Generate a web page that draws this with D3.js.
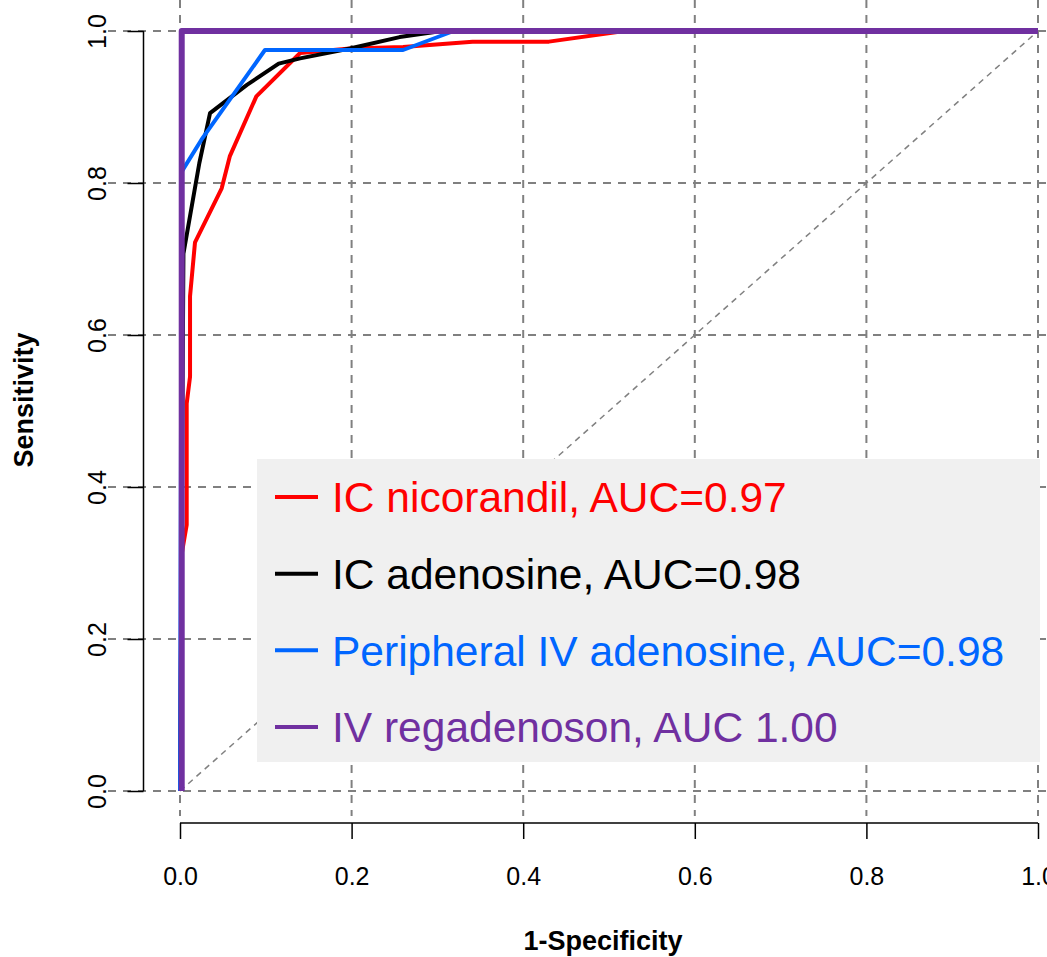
<!DOCTYPE html>
<html>
<head>
<meta charset="utf-8">
<script src="https://cdn.jsdelivr.net/npm/d3@7"></script>
<style>
  html, body { margin: 0; padding: 0; background: #ffffff; }
  svg { display: block; }
  text { font-family: "Liberation Sans", Arial, Helvetica, sans-serif; }
</style>
</head>
<body>
<svg id="chart" width="1047" height="957"></svg>
<script>
// ROC curves: 1-specificity (false positive rate) vs sensitivity
const nicorandilFPR = [0, 0.002, 0.0078, 0.0078, 0.0117, 0.0117, 0.0175, 0.0486, 0.058, 0.089, 0.14, 0.198, 0.26, 0.341, 0.43, 0.518, 1];
const nicorandilTPR = [0, 0.312, 0.35, 0.51, 0.545, 0.651, 0.722, 0.793, 0.835, 0.914, 0.971, 0.977, 0.979, 0.986, 0.986, 1, 1];

const icAdenosineFPR = [0, 0.004, 0.0225, 0.035, 0.078, 0.115, 0.14, 0.198, 0.256, 0.305, 1];
const icAdenosineTPR = [0, 0.707, 0.826, 0.892, 0.929, 0.957, 0.964, 0.977, 0.992, 1, 1];

const ivAdenosineFPR = [0, 0.002, 0.025, 0.099, 0.26, 0.319, 1];
const ivAdenosineTPR = [0, 0.815, 0.857, 0.975, 0.975, 1, 1];

const regadenosonFPR = [0.002, 0.002, 1];
const regadenosonTPR = [0, 1, 1];

const seriesNames = [
  "IC nicorandil, AUC=0.97",
  "IC adenosine, AUC=0.98",
  "Peripheral IV adenosine, AUC=0.98",
  "IV regadenoson, AUC 1.00"
];
const seriesColors = ["#ff0000", "#000000", "#0066ff", "#7030a0"];
const seriesWidths = [4, 4, 4, 6];

const tickValues = [0, 0.2, 0.4, 0.6, 0.8, 1.0];
const tickLabels = ["0.0", "0.2", "0.4", "0.6", "0.8", "1.0"];

const series = [
  { fpr: nicorandilFPR, tpr: nicorandilTPR },
  { fpr: icAdenosineFPR, tpr: icAdenosineTPR },
  { fpr: ivAdenosineFPR, tpr: ivAdenosineTPR },
  { fpr: regadenosonFPR, tpr: regadenosonTPR }
].map((s, i) => ({
  name: seriesNames[i],
  color: seriesColors[i],
  width: seriesWidths[i],
  points: s.fpr.map((f, j) => [f, s.tpr[j]])
}));

const svg = d3.select("#chart");

const x = d3.scaleLinear().domain([0, 1]).range([180, 1038]);
const y = d3.scaleLinear().domain([0, 1]).range([791, 31]);

const gridColor = "#808080";

// grid
const grid = svg.append("g");
grid.selectAll("line.v").data(tickValues).join("line")
  .attr("x1", d => x(d)).attr("x2", d => x(d))
  .attr("y1", 0).attr("y2", 816)
  .attr("stroke", gridColor).attr("stroke-width", 2)
  .attr("stroke-dasharray", "8,7");
grid.selectAll("line.h").data(tickValues).join("line")
  .attr("x1", 108).attr("x2", 1047)
  .attr("y1", d => y(d)).attr("y2", d => y(d))
  .attr("stroke", gridColor).attr("stroke-width", 2)
  .attr("stroke-dasharray", "8,7");

// chance diagonal
svg.append("line")
  .attr("x1", x(0)).attr("y1", y(0))
  .attr("x2", x(1)).attr("y2", y(1))
  .attr("stroke", gridColor).attr("stroke-width", 1.5)
  .attr("stroke-dasharray", "6,5");

// axes
const xAxis = d3.axisBottom(x).tickValues(tickValues)
  .tickFormat((d, i) => tickLabels[i]).tickSize(16).tickPadding(28);
const gx = svg.append("g").attr("transform", "translate(0,823)").call(xAxis);
gx.select(".domain").attr("stroke", "#000").attr("stroke-width", 1.5)
  .attr("d", `M${x(0)},0H${x(1)}`);
gx.selectAll(".tick line").attr("stroke", "#000").attr("stroke-width", 1.5);
gx.selectAll(".tick text").attr("font-size", 25).attr("fill", "#000")
  .attr("font-family", "Liberation Sans, Arial, sans-serif");

const yAxis = d3.axisLeft(y).tickValues(tickValues)
  .tickFormat((d, i) => tickLabels[i]).tickSize(16).tickPadding(0);
const gy = svg.append("g").attr("transform", "translate(143.5,0)").call(yAxis);
gy.select(".domain").attr("stroke", "#000").attr("stroke-width", 1.5)
  .attr("d", `M0,${y(0)}V${y(1)}`);
gy.selectAll(".tick line").attr("stroke", "#000").attr("stroke-width", 1.5);
gy.selectAll(".tick text")
  .attr("font-size", 25).attr("fill", "#000")
  .attr("font-family", "Liberation Sans, Arial, sans-serif")
  .attr("x", 0).attr("dy", 0)
  .attr("text-anchor", "middle")
  .attr("transform", "translate(-38,0) rotate(-90)");

// axis titles
svg.append("text")
  .attr("x", 603).attr("y", 950)
  .attr("text-anchor", "middle")
  .attr("font-size", 27).attr("font-weight", "bold")
  .text("1-Specificity");
svg.append("text")
  .attr("transform", "translate(33,400) rotate(-90)")
  .attr("text-anchor", "middle")
  .attr("font-size", 27).attr("font-weight", "bold")
  .text("Sensitivity");

// ROC curves
const line = d3.line().x(d => x(d[0])).y(d => y(d[1]));
svg.append("g").selectAll("path").data(series).join("path")
  .attr("d", d => line(d.points))
  .attr("fill", "none")
  .attr("stroke", d => d.color)
  .attr("stroke-width", d => d.width)
  .attr("stroke-linejoin", "round");

// legend
const legend = svg.append("g");
legend.append("rect")
  .attr("x", 257).attr("y", 459)
  .attr("width", 783).attr("height", 303)
  .attr("fill", "#f0f0f0");
const rowY = d3.scalePoint().domain(d3.range(series.length)).range([497, 727]);
const items = legend.selectAll("g.item").data(series).join("g")
  .attr("transform", (d, i) => `translate(0,${rowY(i)})`);
items.append("line")
  .attr("x1", 275).attr("x2", 318)
  .attr("stroke", d => d.color).attr("stroke-width", 4);
items.append("text")
  .attr("x", 332).attr("dy", "0.36em")
  .attr("font-size", 42.5)
  .attr("fill", d => d.color)
  .text(d => d.name);
</script>
</body>
</html>
